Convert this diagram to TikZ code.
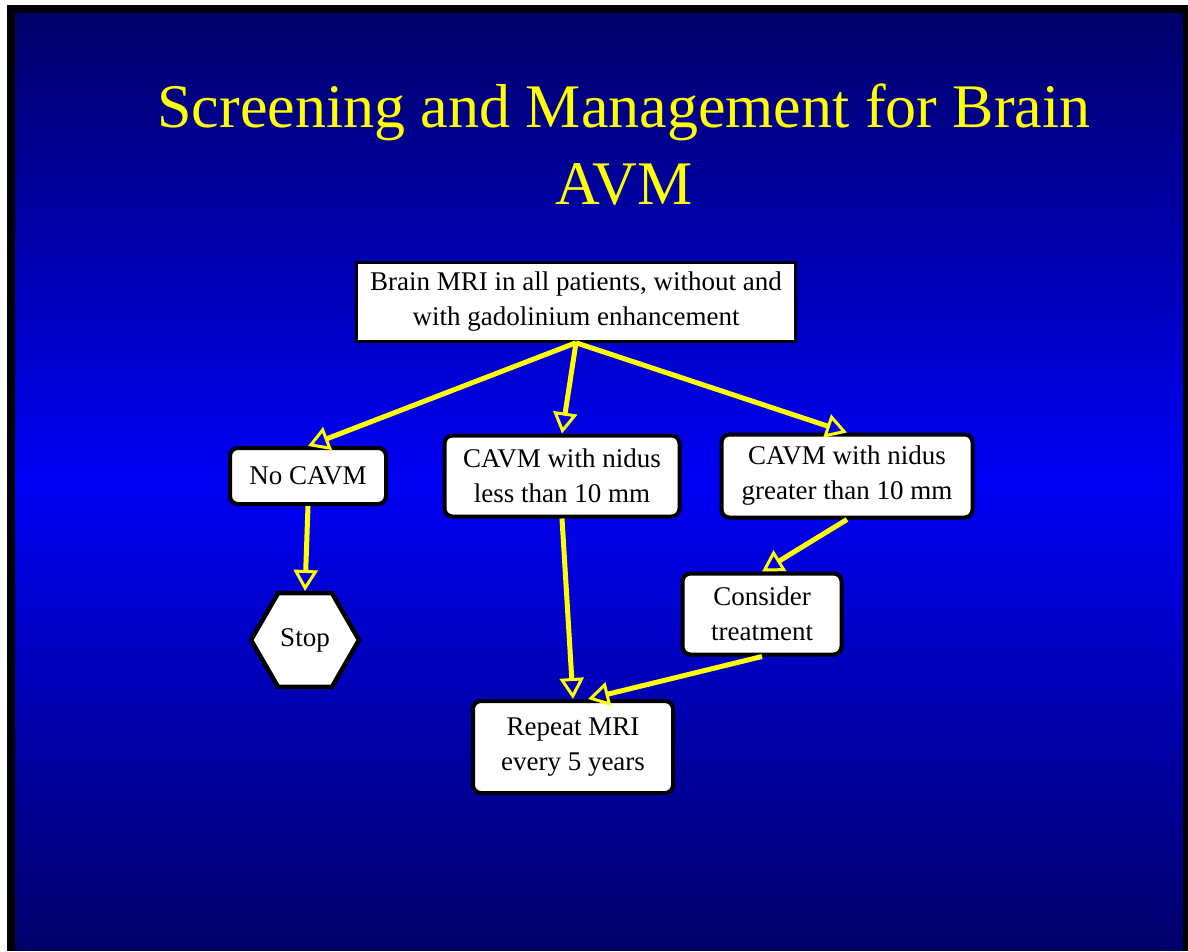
\documentclass[tikz,border=0pt]{standalone}
\usepackage{fontspec}
\setmainfont{Liberation Serif}
\usepackage{tikz}
\usetikzlibrary{arrows,arrows.meta,shapes.geometric,positioning}
\definecolor{mynavy}{RGB}{0,0,105}
\definecolor{myblue}{RGB}{0,0,245}
\definecolor{myyellow}{RGB}{255,255,0}
\tikzstyle{box}=[draw,fill=white,rectangle,line width=2.5pt,inner sep=0pt,align=center,font=\fontsize{27}{35}\selectfont]
\tikzstyle{roundbox}=[box,rounded corners=8pt,line width=4pt]
\tikzstyle{stopvertex}=[draw,fill=white,regular polygon,regular polygon sides=6,minimum size=108pt,line width=4.5pt,inner sep=0pt,font=\fontsize{27}{35}\selectfont]
\tikzstyle{flow}=[myyellow,line width=5pt,-{Triangle[open,length=21pt,width=24pt,line width=3pt]}]
\tikzstyle{title}=[myyellow,align=center,font=\fontsize{62}{77}\selectfont]

\begin{document}
\begin{tikzpicture}[x=1pt,y=-1pt]
\useasboundingbox (0,0) rectangle (1188,951);
\fill[white] (0,0) rectangle (1188,951);
\fill[black] (7,5) rectangle (1188,951);
\shade[top color=mynavy,bottom color=mynavy,middle color=myblue] (15,13) rectangle (1183,950);

\draw (624,145) node [title] (title) {Screening and Management for Brain\\AVM};

\draw (576,302) node [box, minimum width=439pt, minimum height=79pt] (mri) {Brain MRI in all patients, without and\\with gadolinium enhancement};
\draw (308,476) node [roundbox, minimum width=156pt, minimum height=56pt] (nocavm) {No CAVM};
\draw (562,476) node [roundbox, minimum width=235pt, minimum height=81pt] (less) {CAVM with nidus\\less than 10 mm};
\draw (847,476) node [roundbox, minimum width=251pt, minimum height=83pt] (greater) {CAVM with nidus\\greater than 10 mm};
\draw (762,614) node [roundbox, minimum width=159pt, minimum height=81pt] (consider) {Consider\\treatment};
\draw (305,640) node [stopvertex] (stop) {Stop};
\draw (573,747) node [roundbox, minimum width=200pt, minimum height=92pt] (repeat) {Repeat MRI\\every 5 years};

\draw[flow] (mri.south) -- (nocavm.north);
\draw[flow] (mri.south) -- (less.north);
\draw[flow] (mri.south) -- (greater.north);
\draw[flow] (nocavm.south) -- (stop.north);
\draw[flow] (less.south) -- (repeat.north);
\draw[flow] (greater.south) -- (consider.north);
\draw[flow] (consider.south) -- ([xshift=15pt]repeat.north);
\end{tikzpicture}
\end{document}
